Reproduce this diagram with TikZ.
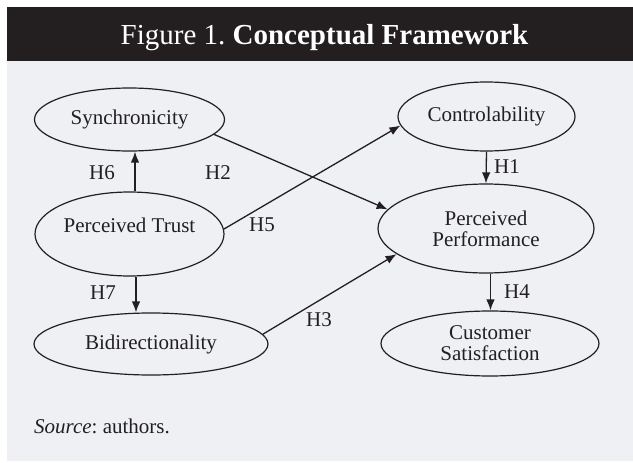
\documentclass[tikz,border=0pt]{standalone}
\usepackage{fontspec}
\setmainfont{Liberation Serif}
\usetikzlibrary{shapes.geometric,arrows.meta}
\definecolor{ink}{HTML}{231F20}
\definecolor{panel}{HTML}{EEF0F4}
\frenchspacing
\begin{document}
\begin{tikzpicture}[x=1pt,y=-1pt,
  ell/.style={draw=ink,line width=1.2pt,ellipse,inner sep=0pt,text=ink,align=center,
    font=\fontsize{21}{21}\selectfont},
  arr/.style={draw=ink,line width=1.3pt,-{Latex[length=11pt,width=8.5pt]}},
  hlab/.style={text=ink,font=\fontsize{21}{21}\selectfont,inner sep=0pt}]
\useasboundingbox (0,0) rectangle (633,463);
\fill[white] (0,0) rectangle (633,463);
\fill[panel] (7,61) rectangle (633,461);
\fill[ink] (7,7) rectangle (633,61);
\node[anchor=base,text=white,inner sep=0pt,font=\fontsize{29}{29}\selectfont] (title) at (324.5,44)
  {Figure 1. \textbf{Conceptual Framework}};

\node[ell,minimum width=190pt,minimum height=63pt] (sync) at (129.5,119.5) {Synchronicity};
\node[ell,minimum width=189pt,minimum height=84pt,
  label={[name=ptlab,text=ink,font=\fontsize{21}{21}\selectfont,yshift=9pt]center:Perceived Trust}] (pt) at (129.5,234) {};
\node[ell,minimum width=234pt,minimum height=62pt] (bid) at (151,344) {Bidirectionality};
\node[ell,minimum width=177pt,minimum height=69pt] (con) at (486.5,116.5) {Controlability};
\node[ell,minimum width=216pt,minimum height=89pt] (pp) at (486,228.5) {Perceived\\Performance};
\node[ell,minimum width=218pt,minimum height=65pt] (cs) at (490,343.5) {Customer\\Satisfaction};

\draw[arr] ([xshift=5.5pt]pt.north) -- ([xshift=5.5pt]sync.south);
\draw[arr] ([xshift=6.5pt]pt.south) -- ([xshift=6.5pt]pt.south |- bid.north);
\draw[arr] (con.south) -- (pp.north);
\draw[arr] ([xshift=4.5pt]pp.south) -- ([xshift=4.5pt]pp.south |- cs.north);
\draw[arr] (sync.-10.5) -- (pp.169.6);
\draw[arr] (pt.3) -- (con.-174.4);
\draw[arr] (bid.5.7) -- (pp.-164.3);

\node[hlab] (h6) at (102,173) {H6};
\node[hlab] (h2) at (218,173) {H2};
\node[hlab] (h5) at (262,225) {H5};
\node[hlab] (h1) at (507,167) {H1};
\node[hlab] (h4) at (517,292) {H4};
\node[hlab] (h7) at (103,293) {H7};
\node[hlab] (h3) at (319,320) {H3};

\node[anchor=base west,text=ink,inner sep=0pt,font=\fontsize{21}{21}\selectfont] (src) at (34,433)
  {\textit{Source}: authors.};
\end{tikzpicture}
\end{document}
